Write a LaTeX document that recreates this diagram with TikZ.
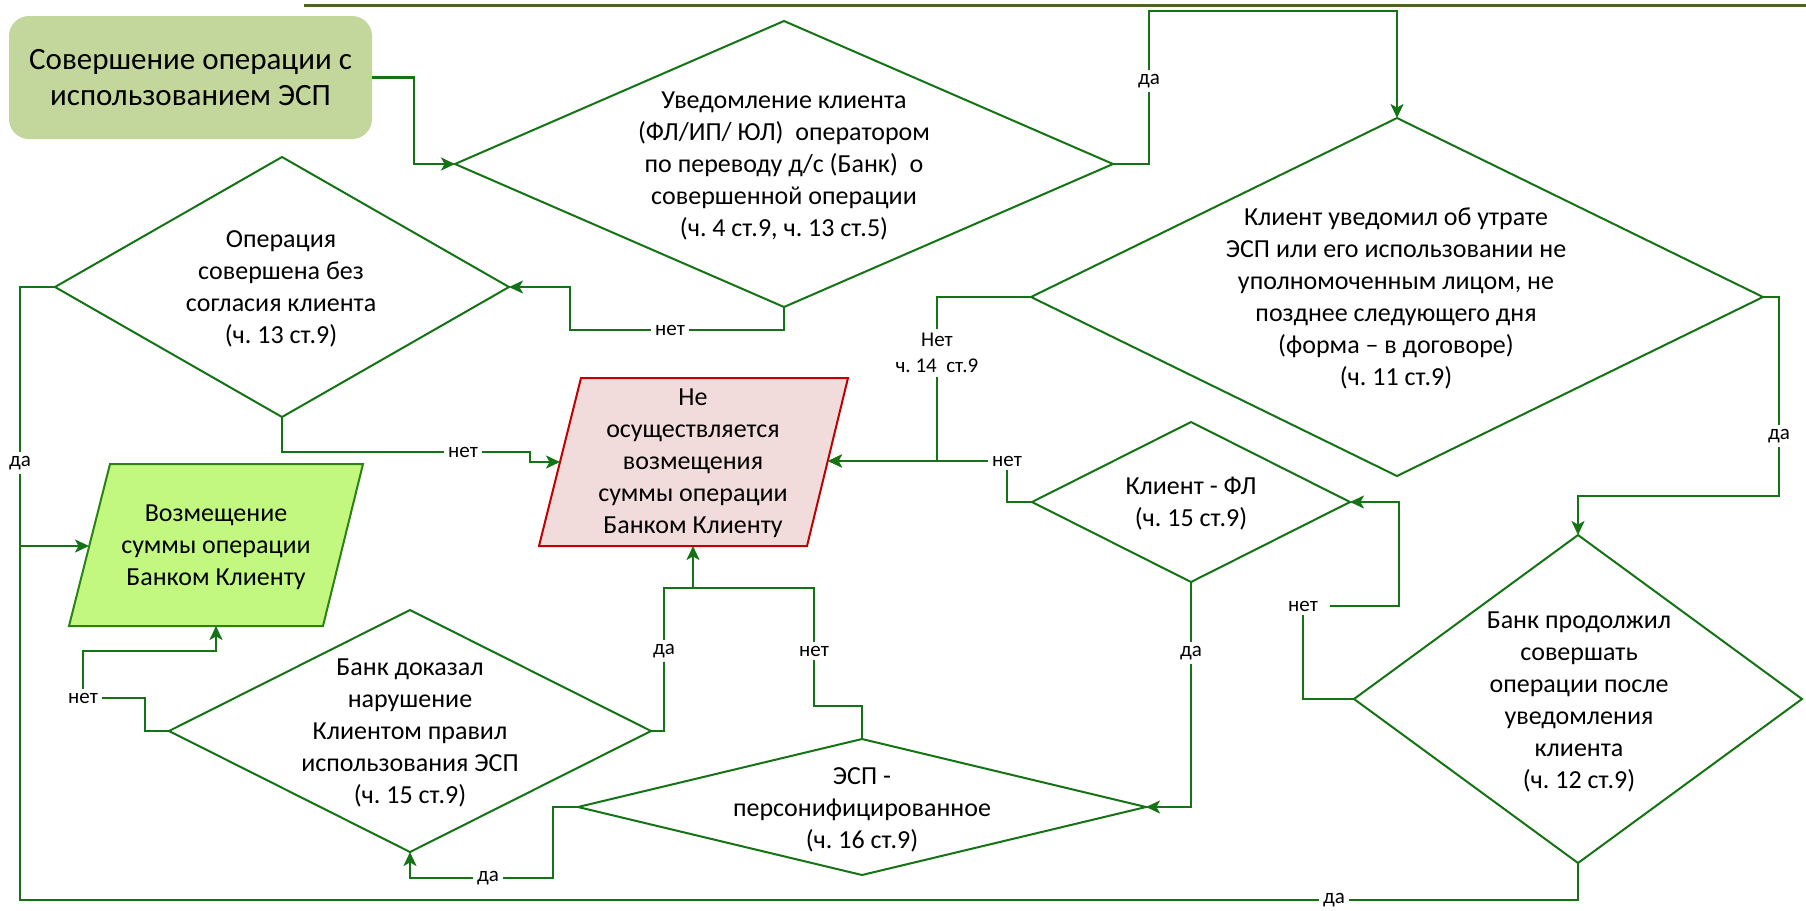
\documentclass[tikz,border=0pt]{standalone}
\usepackage{fontspec}
\setmainfont{Carlito}
\usetikzlibrary{arrows.meta,shapes.geometric}
\definecolor{lg}{RGB}{20,115,20}
\definecolor{topc}{RGB}{79,98,40}
\definecolor{startfill}{RGB}{195,214,155}
\definecolor{gfill}{RGB}{194,247,128}
\definecolor{gborder}{RGB}{45,130,20}
\definecolor{rfill}{RGB}{242,220,219}
\definecolor{rborder}{RGB}{192,0,0}
\frenchspacing
\begin{document}
\begin{tikzpicture}[x=0.5pt,y=-0.5pt,
  dia/.style={diamond, draw=lg, line width=1pt, inner sep=0pt, outer sep=0pt},
  txt/.style={align=center, font=\fontsize{13pt}{16pt}\selectfont},
  lab/.style={fill=white, inner sep=2pt, align=center, font=\fontsize{10.5pt}{13pt}\selectfont},
  conn/.style={draw=lg, line width=1.1pt},
  arr/.style={conn, -{Stealth[length=7pt,width=6.5pt,inset=1.8pt]}},
]
\useasboundingbox (0,0) rectangle (1806,911);
\fill[white] (0,0) rectangle (1806,911);
\draw[topc, line width=1.5pt] (304,5) -- (1806,5);

% start
\node[fill=startfill, rounded corners=10pt, minimum width=181.5pt, minimum height=61.5pt,
  inner sep=0pt, outer sep=0pt, align=center, font=\fontsize{15.5pt}{18pt}\selectfont]
  (start) at (190.5,77.5) {Совершение операции с\\использованием ЭСП};

% diamonds
\node[dia, minimum width=329pt, minimum height=143pt] (d1) at (784,164) {};
\node[dia, minimum width=366pt, minimum height=179pt] (d2) at (1397,297) {};
\node[dia, minimum width=227pt, minimum height=130pt] (d3) at (282,287) {};
\node[dia, minimum width=159pt, minimum height=80pt] (d4) at (1191,502) {};
\node[dia, minimum width=284pt, minimum height=68pt] (d5) at (862,807) {};
\node[dia, minimum width=224pt, minimum height=164pt] (d6) at (1578,699) {};
\node[dia, minimum width=241pt, minimum height=121pt] (d7) at (410,731) {};

\node[txt] (d1t) at (784,166) {Уведомление клиента\\(ФЛ/ИП/ ЮЛ)~ оператором\\по переводу д/с (Банк)~ о\\совершенной операции\\(ч. 4 ст.9, ч. 13 ст.5)};
\node[txt] (d2t) at (1396,298) {Клиент уведомил об утрате\\ЭСП или его использовании не\\уполномоченным лицом, не\\позднее следующего дня\\(форма – в договоре)\\(ч. 11 ст.9)};
\node[txt] (d3t) at (281,289) {Операция\\совершена без\\согласия клиента\\(ч. 13 ст.9)};
\node[txt] (d4t) at (1191,504) {Клиент - ФЛ\\(ч. 15 ст.9)};
\node[txt] (d5t) at (862,810) {ЭСП -\\персонифицированное\\(ч. 16 ст.9)};
\node[txt] (d6t) at (1579,702) {Банк продолжил\\совершать\\операции после\\уведомления\\клиента\\(ч. 12 ст.9)};
\node[txt] (d7t) at (410,733) {Банк доказал\\нарушение\\Клиентом правил\\использования ЭСП\\(ч. 15 ст.9)};

% parallelograms
\draw[fill=gfill, draw=gborder, line width=1pt] (110,464) -- (363,464) -- (323,626) -- (69,626) -- cycle;
\node[txt] (green) at (216,547) {Возмещение\\суммы операции\\Банком Клиенту};
\coordinate (gW) at (89,546);
\coordinate (gS) at (216,626);

\draw[fill=rfill, draw=rborder, line width=1pt] (581,378) -- (848,378) -- (807,546) -- (539,546) -- cycle;
\node[txt] (red) at (693,463) {Не\\осуществляется\\возмещения\\суммы операции\\Банком Клиенту};
\coordinate (rW) at (560,462);
\coordinate (rE) at (828,461);
\coordinate (rS) at (693,546);

% connectors
\draw[arr] (start.east) -- (414,77.5) -- (414,164) -- (d1.west);
\draw[arr] (d1.east) -- (1149,164) -- (1149,11) -- (1397,11) -- (d2.north);
\draw[arr] (d1.south) -- (784,330) -- (570,330) -- (570,287) -- (d3.east);
\draw[conn] (d3.west) -- (20,287) -- (20,900) -- (1578,900) -- (d6.south);
\draw[arr] (20,546) -- (gW);
\draw[arr] (d3.south) -- (282,452) -- (530,452) -- (530,462) -- (rW);
\draw[arr] (d2.west) -- (937,297) -- (937,461) -- (rE);
\draw[arr] (d4.west) -- (1007,502) -- (1007,461) -- (rE);
\draw[arr] (d2.east) -- (1779,297) -- (1779,496) -- (1578,496) -- (d6.north);
\draw[arr] (d6.west) -- (1303,699) -- (1303,606) -- (1399,606) -- (1399,502) -- (d4.east);
\draw[arr] (d4.south) -- (1191,807) -- (d5.east);
\draw[arr] (d5.north) -- (862,706) -- (814,706) -- (814,588) -- (693,588) -- (rS);
\draw[conn] (d7.east) -- (664,731) -- (664,588) -- (693,588);
\draw[arr] (d5.west) -- (553,807) -- (553,878) -- (410,878) -- (d7.south);
\draw[arr] (d7.west) -- (145,731) -- (145,698) -- (83,698) -- (83,651) -- (216,651) -- (gS);

% labels
\node[lab] (l1) at (1149,81) {да};
\node[lab] (l2) at (670,330) {нет};
\node[lab] (l3) at (20,463) {да};
\node[lab] (l4) at (1334,900) {да};
\node[lab] (l5) at (463,452) {нет};
\node[lab] (l6) at (937,353) {Нет\\ч. 14~ ст.9};
\node[lab] (l7) at (1007,461) {нет};
\node[lab] (l8) at (1779,436) {да};
\node[lab, inner xsep=6pt] (l9) at (1303,606) {нет};
\node[lab] (l10) at (1191,653) {да};
\node[lab] (l11) at (814,651) {нет};
\node[lab] (l12) at (664,651) {да};
\node[lab] (l13) at (488,878) {да};
\node[lab] (l14) at (83,698) {нет};
\end{tikzpicture}
\end{document}
